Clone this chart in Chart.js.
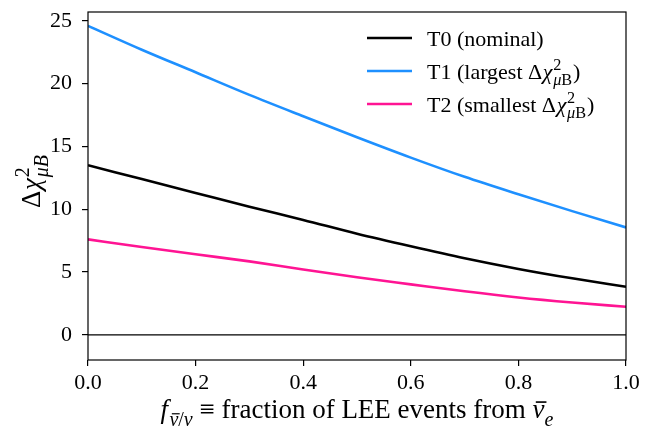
<!DOCTYPE html>
<html>
<head>
<meta charset="utf-8">
<script src="https://cdn.jsdelivr.net/npm/chart.js@4"></script>
<style>
  html, body { margin: 0; padding: 0; background: #fff; }
</style>
</head>
<body>
<canvas id="chi2Chart" width="658" height="427"></canvas>
<script>
// fraction of LEE events from anti-nu_e
const fractions = [0, 0.1, 0.2, 0.3, 0.4, 0.5, 0.6, 0.7, 0.8, 0.9, 1.0];
// delta chi^2 for each template
const chi2T0 = [13.5, 12.4, 11.3, 10.2, 9.15, 8.05, 7.05, 6.1, 5.25, 4.5, 3.83];
const chi2T1 = [24.6, 22.7, 20.9, 19.1, 17.4, 15.73, 14.11, 12.58, 11.19, 9.85, 8.55];
const chi2T2 = [7.6, 7.0, 6.42, 5.85, 5.2, 4.58, 4.02, 3.47, 2.98, 2.58, 2.24];
const xTicks = [0, 0.2, 0.4, 0.6, 0.8, 1.0];
const yTicks = [0, 5, 10, 15, 20, 25];

const SERIF = '"Liberation Serif", "DejaVu Serif", serif';
const TICK_SIZE = 22;
const TITLE_SIZE = 27;
const LEGEND_SIZE = 22;

// --- small rich text helper (italic, sub/superscripts, overbar) ---
function partFont(p, size) {
    const s = p.small ? size * 0.74 : size;
    return (p.it ? 'italic ' : '') + s + 'px ' + SERIF;
}
function partWidth(ctx, p, size) {
    if (p.stack) return Math.max(...p.stack.map(g => richWidth(ctx, g, size)));
    ctx.font = partFont(p, size);
    return ctx.measureText(p.t).width + (p.gap || 0) * size;
}
function richWidth(ctx, parts, size) {
    return parts.reduce((w, p) => w + partWidth(ctx, p, size), 0);
}
function drawRich(ctx, parts, x, y, size) {
    ctx.textAlign = 'left';
    ctx.textBaseline = 'alphabetic';
    let cx = x;
    parts.forEach(p => {
        if (p.stack) {
            p.stack.forEach(g => drawRich(ctx, g, cx, y, size));
        } else {
            ctx.font = partFont(p, size);
            const s = p.small ? size * 0.74 : size;
            const dy = (p.dy || 0) * size;
            ctx.fillText(p.t, cx, y + dy);
            if (p.bar) {
                const w = ctx.measureText(p.t).width;
                ctx.fillRect(cx + s * 0.12, y + dy - s * 0.62, w - s * 0.05, Math.max(1, s * 0.06));
            }
        }
        cx += partWidth(ctx, p, size);
    });
    return cx;
}

const chiSq = (bItalic) => [
    { t: 'Δ', gap: 0.03 }, { t: 'χ', it: true, gap: 0.03 },
    { stack: [
        [{ t: '2', small: true, dy: -0.42 }],
        [{ t: 'μ', it: true, small: true, dy: 0.28 }, { t: 'B', it: bItalic, small: true, dy: 0.28, gap: 0.04 }]
    ] }
];

const legendParts = [
    [{ t: 'T0 (nominal)' }],
    [{ t: 'T1 (largest ' }, ...chiSq(false), { t: ')' }],
    [{ t: 'T2 (smallest ' }, ...chiSq(false), { t: ')' }]
];
const yTitleParts = chiSq(true);
const xTitleParts = [
    { t: 'f', it: true, gap: 0.05 },
    { t: 'ν', it: true, small: true, dy: 0.28, bar: true },
    { t: '/', small: true, dy: 0.28 },
    { t: 'ν', it: true, small: true, dy: 0.28 },
    { t: ' ≡ fraction of LEE events from ' },
    { t: 'ν', it: true, bar: true },
    { t: 'e', it: true, small: true, dy: 0.28 }
];

const seriesColors = ['#000000', '#1e90ff', '#ff1493'];

// frame, axis titles and the inside legend
const decorPlugin = {
    id: 'decor',
    afterDraw(chart) {
        const ctx = chart.ctx;
        const a = chart.chartArea;
        ctx.save();
        ctx.strokeStyle = '#000';
        ctx.lineWidth = 1.2;
        ctx.strokeRect(a.left, a.top, a.right - a.left, a.bottom - a.top);

        ctx.fillStyle = '#000';
        // x title
        const xw = richWidth(ctx, xTitleParts, TITLE_SIZE);
        drawRich(ctx, xTitleParts, (a.left + a.right) / 2 - xw / 2, a.bottom + 58, TITLE_SIZE);
        // y title (rotated)
        ctx.save();
        ctx.translate(40, (a.top + a.bottom) / 2 - 5);
        ctx.rotate(-Math.PI / 2);
        const yw = richWidth(ctx, yTitleParts, TITLE_SIZE);
        drawRich(ctx, yTitleParts, -yw / 2, 0, TITLE_SIZE);
        ctx.restore();

        // legend
        const lx = a.right - 259;
        legendParts.forEach((parts, i) => {
            const ly = a.top + 26 + i * 33;
            ctx.strokeStyle = seriesColors[i];
            ctx.lineWidth = 2.5;
            ctx.beginPath();
            ctx.moveTo(lx, ly);
            ctx.lineTo(lx + 45, ly);
            ctx.stroke();
            ctx.fillStyle = '#000';
            drawRich(ctx, parts, lx + 60, ly + 8, LEGEND_SIZE);
        });
        ctx.restore();
    }
};

function initializeChi2Chart() {
    const ctx = document.getElementById('chi2Chart').getContext('2d');
    const toPoints = ys => fractions.map((f, i) => ({ x: f, y: ys[i] }));
    const seriesStyle = color => ({
        borderColor: color,
        borderWidth: 2.6,
        pointRadius: 0,
        fill: false,
        cubicInterpolationMode: 'monotone'
    });

    new Chart(ctx, {
        type: 'line',
        data: {
            datasets: [
                { label: 'zero', data: [{ x: 0, y: 0 }, { x: 1, y: 0 }], borderColor: '#000', borderWidth: 1.2, pointRadius: 0 },
                { label: 'T0', data: toPoints(chi2T0), ...seriesStyle(seriesColors[0]) },
                { label: 'T1', data: toPoints(chi2T1), ...seriesStyle(seriesColors[1]) },
                { label: 'T2', data: toPoints(chi2T2), ...seriesStyle(seriesColors[2]) }
            ]
        },
        options: {
            responsive: false,
            animation: false,
            devicePixelRatio: 1,
            layout: { padding: { left: 0, right: 32, top: 12, bottom: 0 } },
            plugins: { legend: { display: false }, tooltip: { enabled: false } },
            scales: {
                x: {
                    type: 'linear',
                    min: 0,
                    max: 1,
                    afterBuildTicks: axis => { axis.ticks = xTicks.map(v => ({ value: v })); },
                    afterFit: axis => { axis.height = 67; axis.paddingLeft = 0; axis.paddingRight = 0; },
                    border: { display: false },
                    grid: { drawOnChartArea: false, color: '#000', tickLength: 6, lineWidth: 1.2 },
                    ticks: {
                        color: '#000',
                        padding: 4,
                        maxRotation: 0,
                        font: { family: SERIF, size: TICK_SIZE },
                        callback: v => v.toFixed(1)
                    }
                },
                y: {
                    type: 'linear',
                    min: -2,
                    max: 25.7,
                    afterBuildTicks: axis => { axis.ticks = yTicks.map(v => ({ value: v })); },
                    afterFit: axis => { axis.width = 88; axis.paddingTop = 0; axis.paddingBottom = 0; },
                    border: { display: false },
                    grid: { drawOnChartArea: false, color: '#000', tickLength: 6, lineWidth: 1.2 },
                    ticks: {
                        color: '#000',
                        padding: 10,
                        font: { family: SERIF, size: TICK_SIZE }
                    }
                }
            }
        },
        plugins: [decorPlugin]
    });
}

document.addEventListener('DOMContentLoaded', () => {
    initializeChi2Chart();
});
</script>
</body>
</html>
